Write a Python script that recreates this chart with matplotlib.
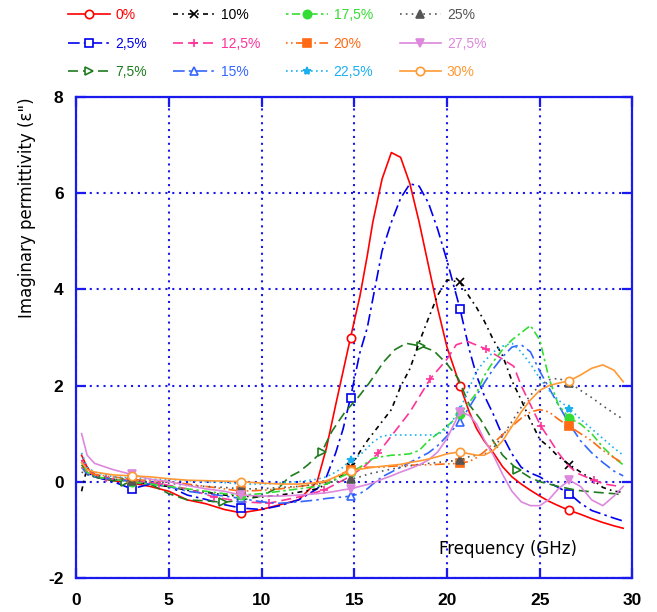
import matplotlib
matplotlib.use("Agg")
import matplotlib.pyplot as plt

plt.rcParams["font.family"] = ["Liberation Sans", "DejaVu Sans"]
plt.rcParams["axes.unicode_minus"] = False

# frequency grid (GHz) shared by most samples
freq = [0.3, 0.6, 1, 2, 3, 4, 5, 6, 7, 8, 8.9, 10, 11, 12, 13, 13.5, 14, 14.4, 14.8, 15.3,
        15.7, 16, 16.5, 17, 17.5, 18, 18.5, 19, 19.5, 20, 20.7, 21.2, 21.6, 22, 22.5, 23,
        23.5, 24, 24.5, 25, 25.5, 26, 26.6, 27.2, 27.8, 28.4, 29, 29.5]

eps_0 = [0.55, 0.3, 0.1, 0.02, -0.03, -0.1, -0.2, -0.38, -0.46, -0.58, -0.65, -0.58, -0.48, -0.38,
         0.0, 0.7, 1.6, 2.3, 3.0, 3.85, 4.7, 5.4, 6.3, 6.85, 6.75, 6.2, 5.4, 4.5, 3.6, 2.8, 2.0,
         1.45, 1.1, 0.85, 0.6, 0.31, 0.1, -0.05, -0.18, -0.3, -0.41, -0.5, -0.6, -0.68, -0.77,
         -0.85, -0.92, -0.97]
eps_25 = [0.45, 0.2, 0.1, 0.0, -0.15, -0.05, -0.1, -0.28, -0.37, -0.48, -0.55, -0.58, -0.5, -0.38,
          -0.15, 0.1, 0.6, 1.1, 1.75, 2.68, 3.2, 3.8, 4.8, 5.4, 5.9, 6.2, 6.15, 5.8, 5.25, 4.6,
          3.6, 2.75, 2.2, 1.8, 1.4, 0.95, 0.58, 0.3, 0.18, 0.1, -0.02, -0.12, -0.25, -0.45,
          -0.6, -0.68, -0.76, -0.82]
eps_10 = [-0.2, 0.3, 0.15, 0.05, 0.0, -0.05, -0.1, -0.18, -0.22, -0.28, -0.3, -0.32, -0.28, -0.22,
          -0.15, -0.05, 0.05, 0.15, 0.3, 0.62, 0.85, 1.0, 1.25, 1.5, 1.98, 2.35, 2.9, 3.4, 3.88,
          4.2, 4.15, 3.85, 3.62, 3.35, 2.95, 2.62, 2.1, 1.7, 1.27, 0.88, 0.72, 0.52, 0.35, 0.2,
          0.05, -0.12, -0.2, -0.22]
eps_15 = [0.3, 0.15, 0.1, 0.05, 0.0, -0.05, -0.1, -0.2, -0.25, -0.3, -0.35, -0.42, -0.45, -0.42,
          -0.38, -0.35, -0.33, -0.32, -0.3, -0.25, -0.15, -0.05, 0.1, 0.2, 0.3, 0.4, 0.5, 0.6,
          0.75, 0.95, 1.25, 1.55, 1.8, 2.05, 2.35, 2.6, 2.8, 2.85, 2.7, 2.3, 1.95, 1.6, 1.2,
          0.85, 0.6, 0.4, 0.22, 0.12]
eps_175 = [0.4, 0.2, 0.1, 0.05, 0.0, -0.05, -0.1, -0.15, -0.2, -0.25, -0.28, -0.25, -0.2, -0.15,
           -0.1, -0.05, 0.05, 0.12, 0.2, 0.3, 0.4, 0.48, 0.52, 0.55, 0.56, 0.58, 0.65, 0.85, 1.0,
           1.15, 1.4, 1.65, 1.85, 2.2, 2.5, 2.75, 2.95, 3.1, 3.25, 2.95, 2.15, 1.6, 1.32, 1.2,
           1.0, 0.72, 0.5, 0.35]
eps_20 = [0.3, 0.2, 0.15, 0.1, 0.05, 0.02, 0.0, -0.05, -0.1, -0.15, -0.2, -0.18, -0.15, -0.1,
          -0.05, 0.0, 0.1, 0.18, 0.24, 0.28, 0.3, 0.3, 0.3, 0.32, 0.33, 0.34, 0.35, 0.35, 0.36,
          0.37, 0.38, 0.42, 0.5, 0.62, 0.8, 0.98, 1.15, 1.32, 1.45, 1.5, 1.45, 1.3, 1.15, 1.0,
          0.85, 0.65, 0.5, 0.38]
eps_225 = [0.6, 0.3, 0.2, 0.1, 0.08, 0.05, 0.05, 0.02, 0.0, -0.02, -0.05, -0.05, -0.03, 0.0,
           0.05, 0.1, 0.2, 0.3, 0.45, 0.55, 0.7, 0.82, 0.95, 0.97, 0.97, 0.97, 0.97, 0.97, 0.98,
           1.1, 1.5, 1.95, 2.3, 2.5, 2.7, 2.82, 2.88, 2.7, 2.45, 2.15, 1.9, 1.7, 1.52, 1.3, 1.1,
           0.9, 0.7, 0.55]
eps_25p = [0.2, 0.15, 0.1, 0.05, 0.02, 0.0, -0.03, -0.08, -0.1, -0.12, -0.15, -0.15, -0.12, -0.1,
           -0.05, -0.02, 0.0, 0.02, 0.05, 0.1, 0.15, 0.18, 0.22, 0.26, 0.3, 0.33, 0.36, 0.38, 0.4,
           0.42, 0.45, 0.52, 0.55, 0.56, 0.7, 0.95, 1.25, 1.55, 1.8, 2.0, 2.12, 2.15, 2.06, 1.9,
           1.75, 1.58, 1.42, 1.3]
eps_275 = [1.0, 0.55, 0.38, 0.25, 0.15, 0.05, 0.0, -0.08, -0.15, -0.2, -0.28, -0.3, -0.3, -0.28,
           -0.25, -0.23, -0.2, -0.17, -0.15, -0.1, -0.06, -0.03, 0.05, 0.12, 0.2, 0.27, 0.35,
           0.45, 0.62, 0.9, 1.45, 1.38, 1.2, 0.88, 0.55, 0.15, -0.2, -0.42, -0.5, -0.5, -0.37,
           -0.15, 0.03, -0.1, -0.38, -0.5, -0.3, -0.1]
eps_30 = [0.4, 0.25, 0.2, 0.14, 0.12, 0.1, 0.06, 0.03, 0.02, 0.01, 0.0, -0.03, -0.05, -0.05,
          -0.02, 0.02, 0.1, 0.17, 0.22, 0.26, 0.28, 0.3, 0.32, 0.34, 0.36, 0.4, 0.43, 0.47, 0.52,
          0.58, 0.62, 0.58, 0.55, 0.55, 0.65, 0.85, 1.15, 1.45, 1.7, 1.9, 2.0, 2.05, 2.1, 2.22,
          2.36, 2.43, 2.32, 2.08]

# 7.5 % and 12.5 % were sampled on their own grids
freq_75 = [0.3, 0.6, 1, 2, 2.65, 4, 5, 6, 7, 7.95, 9, 10, 11, 11.5, 12, 12.5, 13.25, 13.8, 14.5,
           15.2, 15.8, 16.6, 17.2, 17.8, 18.6, 19.3, 20, 20.6, 21.2, 21.8, 22.4, 23, 23.8, 24.5,
           25, 26, 27, 28, 29, 29.5]
eps_75 = [0.35, 0.2, 0.1, 0.02, 0.0, -0.05, -0.25, -0.38, -0.4, -0.43, -0.38, -0.3, -0.1, 0.1,
          0.2, 0.35, 0.62, 1.05, 1.45, 1.75, 2.05, 2.5, 2.75, 2.88, 2.82, 2.72, 2.45, 2.15, 1.6,
          1.3, 0.9, 0.55, 0.25, 0.08, 0.0, -0.1, -0.18, -0.22, -0.25, -0.28]
freq_125 = [0.3, 0.6, 1, 1.6, 3, 4.5, 6, 7.45, 9, 10.4, 12, 13.35, 14.5, 15.5, 16.3, 17, 18, 19.1,
            20, 20.5, 21.1, 22.1, 23, 23.6, 24, 24.5, 25.05, 25.5, 26, 26.5, 27, 27.9, 28.5, 29.3]
eps_125 = [0.45, 0.25, 0.15, 0.07, 0.02, -0.04, -0.15, -0.32, -0.42, -0.45, -0.32, -0.18, 0.05,
           0.3, 0.6, 0.95, 1.45, 2.14, 2.55, 2.85, 2.92, 2.76, 2.55, 2.4, 2.0, 1.6, 1.16, 0.9,
           0.6, 0.35, 0.18, 0.03, -0.05, -0.1]

mk = [freq.index(f) for f in (3, 8.9, 14.8, 20.7, 26.6)]
mk_75 = [freq_75.index(f) for f in (2.65, 7.95, 13.25, 18.6, 23.8)]
mk_125 = [freq_125.index(f) for f in (1.6, 4.5, 7.45, 10.4, 13.35, 16.3, 19.1, 22.1, 25.05, 27.9)]

fig = plt.figure(figsize=(6.57, 6.12), dpi=100)
ax = fig.add_axes([0.1157, 0.056, 0.847, 0.785])

W = "white"
series = [
    # label, x, y, color, linestyle, marker, facecolor, markevery
    ("0%", freq, eps_0, "#ff0000", "-", "o", W, mk),
    ("2,5%", freq, eps_25, "#0000ee", (0, (7, 2.5, 1.5, 2.5)), "s", W, mk),
    ("7,5%", freq_75, eps_75, "#1e7b1e", (0, (6, 3)), ">", W, mk_75),
    ("10%", freq, eps_10, "#000000", (0, (3, 2.5, 1, 2.5)), "x", None, mk),
    ("12,5%", freq_125, eps_125, "#ff3399", (0, (6, 3)), "+", None, mk_125),
    ("15%", freq, eps_15, "#3366ff", (0, (7, 2.5, 1.5, 2.5)), "^", W, mk),
    ("17,5%", freq, eps_175, "#33dd33", (0, (1.5, 2, 5, 2)), "o", None, mk),
    ("20%", freq, eps_20, "#ff6a13", (0, (1, 2, 1, 2, 6, 2)), "s", None, mk),
    ("22,5%", freq, eps_225, "#1ab0f0", (0, (1, 2)), "*", None, mk),
    ("25%", freq, eps_25p, "#555555", (0, (1, 2.5)), "^", None, mk),
    ("27,5%", freq, eps_275, "#dd88dd", "-", "v", None, mk),
    ("30%", freq, eps_30, "#ff9933", "-", "o", W, mk),
]

handles = []
for lab, x, y, c, ls, m, fc, me in series:
    h, = ax.plot(x, y, color=c, linestyle=ls, linewidth=1.2, marker=m, markevery=me,
                 markersize=6, markerfacecolor=fc if fc else c, markeredgecolor=c,
                 markeredgewidth=1.2, label=lab, zorder=3)
    handles.append(h)

ax.set_xlim(0, 30)
ax.set_ylim(-2, 8)
ax.set_xticks(range(0, 31, 5))
ax.set_yticks(range(-2, 9, 2))

blue = "#1a1aee"
for s in ax.spines.values():
    s.set_color(blue)
    s.set_linewidth(1.6)
ax.tick_params(direction="in", length=7, width=1.6, color=blue, top=True, right=True,
               labelsize=12.5)
ax.tick_params(axis="x", pad=11)
ax.tick_params(axis="y", pad=9)
for t in ax.get_xticklabels() + ax.get_yticklabels():
    t.set_fontweight("bold")
ax.grid(True, color=blue, linestyle=(0, (1, 2.3)), linewidth=1.5, zorder=1)

ax.text(23.3, -1.4, "Frequency (GHz)", fontsize=12, family="DejaVu Sans",
        ha="center", va="center")
fig.text(0.041, 1 - 97 / 612, 'Imaginary permittivity (ε")', rotation=90, fontsize=12,
         family="DejaVu Sans", ha="center", va="top")

# legend, 4 columns x 3 rows
leg = fig.legend(handles, [s[0] for s in series], ncol=4,
                 loc="upper left", bbox_to_anchor=(68 / 657, 1 - 8 / 612), frameon=False,
                 fontsize=10, handlelength=3, handletextpad=0.4, columnspacing=1.9,
                 labelspacing=1.05, borderpad=0, borderaxespad=0)
for txt, s in zip(leg.get_texts(), series):
    txt.set_color(s[3])

fig.savefig("out.png", dpi=100)
